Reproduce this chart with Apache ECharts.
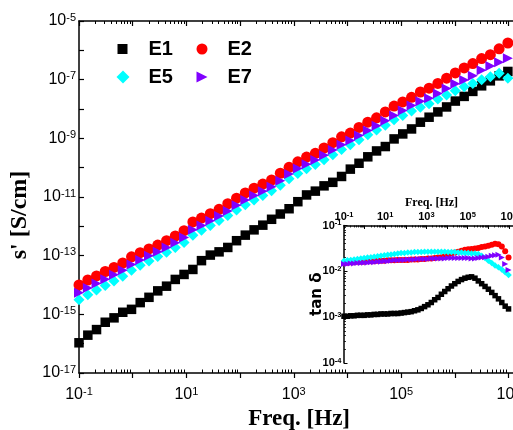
<!DOCTYPE html>
<html><head><meta charset="utf-8">
<script src="https://cdn.jsdelivr.net/npm/echarts@6/dist/echarts.min.js"></script>
<style>html,body{margin:0;padding:0;background:#fff}#c{width:513px;height:430px}</style>
</head><body><div id="c"></div>
<script>
// measurement frequencies (Hz)
const freqHz = [0.1, 0.146, 0.212, 0.308, 0.449, 0.653, 0.951, 1.38, 2.01, 2.93,
  4.27, 6.21, 9.04, 13.2, 19.1, 27.9, 40.6, 59.0, 85.9, 125,
  182, 265, 386, 561, 817, 1190, 1730, 2520, 3660, 5330,
  7760, 11300, 16400, 23900, 34800, 50700, 73800, 107000, 156000, 228000,
  331000, 482000, 702000, 1020000, 1490000, 2160000, 3150000, 4580000, 6670000, 9710000];

// main panel: log10 of s' [S/cm]
const logSigmaE1 = [-15.97,-15.71,-15.52,-15.27,-15.12,-14.93,-14.83,-14.60,-14.42,-14.20,
  -14.04,-13.81,-13.64,-13.47,-13.17,-12.98,-12.87,-12.72,-12.49,-12.30,
  -12.12,-11.96,-11.76,-11.58,-11.40,-11.16,-10.93,-10.80,-10.62,-10.50,
  -10.30,-10.05,-9.85,-9.63,-9.43,-9.28,-9.02,-8.85,-8.68,-8.45,
  -8.28,-8.10,-7.93,-7.73,-7.57,-7.40,-7.21,-7.04,-6.87,-6.72];
const logSigmaE2 = [-14.00,-13.83,-13.69,-13.54,-13.40,-13.25,-13.04,-12.90,-12.77,-12.64,
  -12.49,-12.33,-12.15,-11.85,-11.72,-11.57,-11.42,-11.23,-11.04,-10.86,
  -10.70,-10.56,-10.42,-10.19,-9.99,-9.80,-9.64,-9.51,-9.33,-9.15,
  -8.95,-8.82,-8.63,-8.45,-8.30,-8.10,-7.90,-7.76,-7.60,-7.42,
  -7.29,-7.13,-6.95,-6.77,-6.60,-6.45,-6.28,-6.15,-5.95,-5.75];
const logSigmaE5 = [-14.50,-14.33,-14.17,-14.02,-13.86,-13.70,-13.50,-13.33,-13.18,-13.03,
  -12.88,-12.72,-12.55,-12.30,-12.13,-11.97,-11.80,-11.63,-11.44,-11.26,
  -11.10,-10.95,-10.79,-10.60,-10.38,-10.20,-10.04,-9.89,-9.73,-9.56,
  -9.38,-9.22,-9.05,-8.88,-8.72,-8.55,-8.37,-8.22,-8.07,-7.94,
  -7.82,-7.66,-7.52,-7.38,-7.24,-7.13,-7.00,-6.90,-6.78,-6.95];
const logSigmaE7 = [-14.26,-14.10,-13.95,-13.80,-13.65,-13.50,-13.30,-13.15,-13.00,-12.87,
  -12.72,-12.56,-12.38,-12.12,-11.97,-11.81,-11.65,-11.48,-11.28,-11.10,
  -10.95,-10.80,-10.65,-10.45,-10.22,-10.03,-9.88,-9.74,-9.58,-9.40,
  -9.22,-9.07,-8.90,-8.73,-8.57,-8.40,-8.22,-8.05,-7.88,-7.74,
  -7.63,-7.47,-7.30,-7.14,-7.01,-6.87,-6.68,-6.53,-6.41,-6.27];

// inset: log10 of tan delta
const logTanE1 = [-2.98,-2.98,-2.97,-2.97,-2.96,-2.96,-2.96,-2.95,-2.95,-2.94,
  -2.94,-2.93,-2.93,-2.93,-2.92,-2.92,-2.92,-2.91,-2.90,-2.89,
  -2.88,-2.86,-2.84,-2.81,-2.77,-2.73,-2.68,-2.62,-2.57,-2.50,
  -2.44,-2.38,-2.32,-2.27,-2.22,-2.18,-2.15,-2.13,-2.12,-2.15,
  -2.21,-2.27,-2.33,-2.39,-2.46,-2.53,-2.60,-2.68,-2.76,-2.82];
const logTanE2 = [-1.81,-1.81,-1.80,-1.80,-1.79,-1.79,-1.79,-1.78,-1.78,-1.78,
  -1.77,-1.77,-1.77,-1.76,-1.76,-1.76,-1.75,-1.75,-1.75,-1.75,
  -1.74,-1.74,-1.74,-1.73,-1.73,-1.72,-1.72,-1.71,-1.70,-1.69,
  -1.67,-1.64,-1.61,-1.59,-1.57,-1.55,-1.53,-1.52,-1.51,-1.50,
  -1.49,-1.47,-1.46,-1.44,-1.42,-1.40,-1.41,-1.46,-1.56,-1.70];
const logTanE5 = [-1.77,-1.76,-1.75,-1.74,-1.73,-1.72,-1.71,-1.70,-1.69,-1.68,
  -1.67,-1.66,-1.65,-1.64,-1.63,-1.62,-1.61,-1.60,-1.60,-1.59,
  -1.59,-1.58,-1.58,-1.58,-1.57,-1.57,-1.57,-1.57,-1.57,-1.57,
  -1.57,-1.58,-1.58,-1.58,-1.59,-1.59,-1.60,-1.60,-1.61,-1.61,
  -1.62,-1.66,-1.71,-1.77,-1.82,-1.87,-1.91,-1.96,-2.02,-2.08];
const logTanE7 = [-1.84,-1.84,-1.83,-1.83,-1.82,-1.82,-1.81,-1.81,-1.80,-1.80,
  -1.79,-1.79,-1.78,-1.78,-1.77,-1.76,-1.76,-1.75,-1.75,-1.74,
  -1.74,-1.74,-1.73,-1.73,-1.73,-1.73,-1.72,-1.72,-1.72,-1.72,
  -1.72,-1.71,-1.71,-1.71,-1.71,-1.71,-1.71,-1.71,-1.72,-1.72,
  -1.71,-1.70,-1.69,-1.68,-1.66,-1.65,-1.64,-1.70,-1.84,-1.97];

const seriesNames = ['E1', 'E2', 'E5', 'E7'];
const seriesColors = ['#000000', '#ff0000', '#00ffff', '#8000ff'];

// tick label exponents
const mainXLabelExp = [-1, 1, 3, 5, 7];
const mainYLabelExp = [-17, -15, -13, -11, -9, -7, -5];
const insetXLabelExp = [-1, 1, 3, 5, 7];
const insetYLabelExp = [-4, -3, -2, -1];

const pow10 = e => Math.pow(10, e);
function decades(a, b) { const r = []; for (let e = a; e <= b; e++) r.push(pow10(e)); return r; }
function minors(a, b) { const r = []; for (let e = a; e <= b; e++) for (let m = 2; m <= 9; m++) r.push(m * pow10(e)); return r; }
function pair(logArr) { return freqHz.map((f, i) => [f, pow10(logArr[i])]); }
function supFmt(v) { return '{b|10}{s|' + Math.round(Math.log10(v)) + '}'; }

const triRight = 'path://M0,0L10,5L0,10Z';
const symbols = ['rect', 'circle', 'diamond', triRight];
const mainSizes = [9.5, 11, 11, 10];
const insetSizes = [5.5, 6, 6.5, 6];

const SANS = 'Liberation Sans, Arial, Helvetica, sans-serif';
const SERIF = 'Liberation Serif, Times New Roman, serif';

const mainRich = {
  b: { fontSize: 16, fontFamily: SANS, color: '#000', lineHeight: 18 },
  s: { fontSize: 11, fontFamily: SANS, color: '#000', lineHeight: 11, verticalAlign: 'top' }
};
const insetRich = {
  b: { fontSize: 11, fontWeight: 'bold', fontFamily: SANS, color: '#000', lineHeight: 13 },
  s: { fontSize: 7.5, fontWeight: 'bold', fontFamily: SANS, color: '#000', lineHeight: 8, verticalAlign: 'top' }
};

const blackLine = { show: true, onZero: false, lineStyle: { color: '#000', width: 1.5 } };
const noLine = { show: false, onZero: false };

const MX = [0.09999, pow10(7.2)];
const MY = [0.9999e-17, 1.0001e-5];
const IX = [0.09999, pow10(7.5)];
const IY = [0.9999e-4, 1.0001e-1];

function ax(base) { return Object.assign({ type: 'log', splitLine: { show: false }, minorTick: { show: false }, minorSplitLine: { show: false } }, base); }

const xAxes = [
  ax({ gridIndex: 0, position: 'bottom', min: MX[0], max: MX[1], axisLine: blackLine,
    axisTick: { show: true, inside: false, length: 5, customValues: decades(-1, 7), lineStyle: { color: '#000', width: 1.2 } },
    axisLabel: { show: true, margin: 13, customValues: mainXLabelExp.map(pow10), formatter: supFmt, rich: mainRich },
    name: 'Freq. [Hz]', nameLocation: 'middle', nameGap: 33,
    nameTextStyle: { fontFamily: SERIF, fontWeight: 'bold', fontSize: 23, color: '#000' } }),
  ax({ gridIndex: 0, position: 'bottom', min: MX[0], max: MX[1], axisLine: noLine,
    axisTick: { show: true, inside: true, length: 3.5, customValues: minors(-1, 7), lineStyle: { color: '#000', width: 1 } },
    axisLabel: { show: false } }),
  ax({ gridIndex: 0, position: 'top', min: MX[0], max: MX[1], axisLine: blackLine,
    axisTick: { show: true, inside: true, length: 5, customValues: decades(-1, 7), lineStyle: { color: '#000', width: 1.2 } },
    axisLabel: { show: false } }),
  ax({ gridIndex: 0, position: 'top', min: MX[0], max: MX[1], axisLine: noLine,
    axisTick: { show: true, inside: true, length: 3, customValues: minors(-1, 7), lineStyle: { color: '#000', width: 1 } },
    axisLabel: { show: false } }),
  ax({ gridIndex: 1, position: 'top', min: IX[0], max: IX[1], axisLine: blackLine,
    axisTick: { show: true, inside: true, length: 3.5, customValues: decades(-1, 7), lineStyle: { color: '#000', width: 1 } },
    axisLabel: { show: true, margin: 2, customValues: insetXLabelExp.map(pow10), formatter: supFmt, rich: insetRich },
    name: 'Freq. [Hz]', nameLocation: 'middle', nameGap: 17,
    nameTextStyle: { fontFamily: SERIF, fontWeight: 'bold', fontSize: 12, color: '#000' } }),
  ax({ gridIndex: 1, position: 'top', min: IX[0], max: IX[1], axisLine: noLine,
    axisTick: { show: true, inside: true, length: 2, customValues: minors(-1, 7), lineStyle: { color: '#000', width: 0.8 } },
    axisLabel: { show: false } })
];

const yAxes = [
  ax({ gridIndex: 0, position: 'left', min: MY[0], max: MY[1], axisLine: blackLine,
    axisTick: { show: true, inside: true, length: 5, customValues: decades(-17, -5), lineStyle: { color: '#000', width: 1.2 } },
    axisLabel: { show: true, margin: 3, customValues: mainYLabelExp.map(pow10), formatter: supFmt, rich: mainRich },
    name: "s' [S/cm]", nameLocation: 'middle', nameGap: 40,
    nameTextStyle: { fontFamily: SERIF, fontWeight: 'bold', fontSize: 24, color: '#000', padding: [0, 36, 0, 0] } }),
  ax({ gridIndex: 1, position: 'left', min: IY[0], max: IY[1], axisLine: blackLine,
    axisTick: { show: true, inside: true, length: 3.5, customValues: decades(-4, -1), lineStyle: { color: '#000', width: 1 } },
    axisLabel: { show: true, margin: 2.5, customValues: insetYLabelExp.map(pow10), formatter: supFmt, rich: insetRich },
    name: 'tan δ', nameLocation: 'middle', nameGap: 19, nameMoveOverlap: false,
    nameTextStyle: { fontFamily: 'DejaVu Sans, Liberation Sans, sans-serif', fontWeight: 'bold', fontSize: 15, color: '#000' } }),
  ax({ gridIndex: 1, position: 'left', min: IY[0], max: IY[1], axisLine: noLine,
    axisTick: { show: true, inside: true, length: 2, customValues: minors(-4, -2), lineStyle: { color: '#000', width: 0.8 } },
    axisLabel: { show: false } })
];

const mainLogs = [logSigmaE1, logSigmaE2, logSigmaE5, logSigmaE7];
const insetLogs = [logTanE1, logTanE2, logTanE5, logTanE7];

const series = [];
seriesNames.forEach((n, i) => {
  series.push({ type: 'scatter', name: n, xAxisIndex: 0, yAxisIndex: 0, data: pair(mainLogs[i]),
    symbol: symbols[i], symbolSize: mainSizes[i], itemStyle: { color: seriesColors[i], opacity: 1 },
    clip: true, z: 2 + i, emphasis: { disabled: true } });
});
seriesNames.forEach((n, i) => {
  series.push({ type: 'scatter', name: n + ' tanδ', xAxisIndex: 4, yAxisIndex: 1, data: pair(insetLogs[i]),
    symbol: symbols[i], symbolSize: insetSizes[i], itemStyle: { color: seriesColors[i], opacity: 1 },
    clip: true, z: 2 + i, emphasis: { disabled: true } });
});

const legTxt = (pad) => ({ fontFamily: SANS, fontWeight: 'bold', fontSize: 20, color: '#000', lineHeight: 22, padding: [0, 0, 0, pad] });
function leg(name, left, top, w, h, pad, icon) {
  return { data: [{ name: name, icon: icon }], left: left, top: top, padding: 0, itemWidth: w, itemHeight: h,
    selectedMode: false, textStyle: legTxt(pad) };
}

const option = {
  animation: false,
  backgroundColor: '#fff',
  grid: [
    { left: 79, top: 21, width: 440.3, height: 352, outerBoundsMode: 'none', containLabel: false },
    { left: 344, top: 225.5, width: 175.1, height: 137.5, outerBoundsMode: 'none', containLabel: false }
  ],
  xAxis: xAxes,
  yAxis: yAxes,
  legend: [
    leg('E1', 117.5, 38, 10, 10, 16, 'rect'),
    leg('E2', 196.5, 38, 11, 11, 15, 'circle'),
    leg('E5', 116.5, 66, 13, 13, 14, 'diamond'),
    leg('E7', 196.5, 66, 11, 11, 15, triRight)
  ],
  series: series
};

const chart = echarts.init(document.getElementById('c'), null, { renderer: 'canvas', width: 513, height: 430 });
chart.setOption(option);
</script></body></html>
